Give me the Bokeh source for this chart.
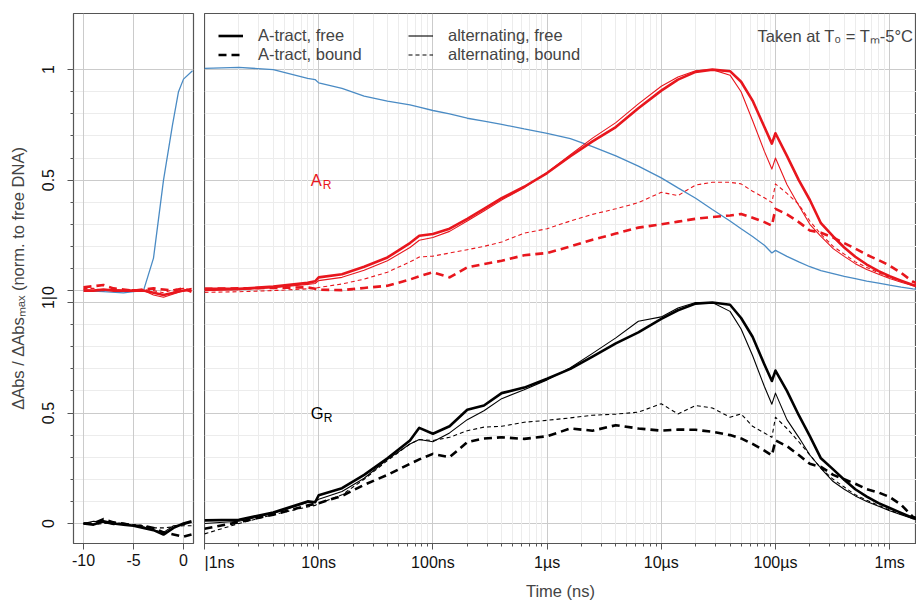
import numpy as np
from bokeh.plotting import figure
from bokeh.models import (FixedTicker, Grid, Legend, LegendItem, Label, Range1d,
                          ColumnDataSource)
from bokeh.layouts import row
from bokeh.embed import file_html
from bokeh.resources import INLINE

# ---------------- data ----------------
# left panel: linear time (ns) before/around the pulse
t_left = [-10, -9, -8, -7, -6, -5, -4, -3, -2, -1, 0, 0.8]
blue_left_t = [-10, -8, -6, -5, -4, -3, -2, -1.1, -0.5, 0, 0.9]
blue_left = [0.0, -0.005, -0.01, -0.005, 0.0, 0.147, 0.5, 0.75, 0.9, 0.957, 0.995]

AR_atract_free_left = [0.0, 0.0, 0.005, 0.0, 0.0, 0.0, 0.0, -0.01, -0.02, -0.01, 0.0, 0.005]
AR_atract_bound_left = [0.015, 0.02, 0.025, 0.01, 0.005, 0.0, 0.005, 0.01, 0.005, 0.0, 0.01, -0.005]
AR_alt_free_left = [0.005, 0.0, 0.0, 0.005, 0.0, 0.0, 0.0, -0.02, -0.03, -0.015, 0.0, 0.01]
AR_alt_bound_left = [0.01, 0.01, 0.0, 0.005, 0.0, 0.005, 0.005, 0.0, -0.01, 0.005, 0.01, 0.0]

GR_atract_free_left = [0.0, -0.005, 0.01, 0.0, -0.005, -0.01, -0.02, -0.03, -0.05, -0.02, 0.0, 0.01]
GR_atract_bound_left = [0.0, 0.0, 0.02, 0.005, 0.0, -0.01, -0.01, -0.02, -0.04, -0.05, -0.06, -0.05]
GR_alt_free_left = [0.0, 0.01, 0.005, -0.005, 0.0, -0.01, -0.015, -0.03, -0.04, -0.01, -0.005, 0.005]
GR_alt_bound_left = [0.0, -0.005, 0.0, 0.005, 0.0, -0.005, -0.01, -0.02, -0.02, -0.015, -0.01, -0.01]

# right panel: log time (ns)
t_right = [1, 2, 4, 8, 9.3, 10, 16, 25, 40, 63, 76, 100, 140, 200, 280, 400, 630,
           1000, 1600, 2500, 4000, 6300, 10000, 14000, 20000, 28000, 40000, 50000,
           63000, 80000, 93000, 100000, 126000, 160000, 200000, 250000, 320000,
           400000, 500000, 630000, 800000, 1000000, 1260000, 1600000, 2000000]

blue_right = [1.006, 1.01, 1.0, 0.96, 0.955, 0.94, 0.915, 0.88, 0.857, 0.84, 0.83, 0.815,
              0.80, 0.78, 0.767, 0.752, 0.732, 0.712, 0.688, 0.652, 0.61, 0.563, 0.51,
              0.465, 0.418, 0.367, 0.315, 0.28, 0.245, 0.205, 0.17, 0.182, 0.155, 0.13,
              0.108, 0.09, 0.077, 0.064, 0.054, 0.043, 0.034, 0.025, 0.016, 0.008, 0.003]

AR_atract_free = [0.008, 0.008, 0.018, 0.035, 0.042, 0.06, 0.074, 0.108, 0.15, 0.215, 0.248,
                  0.256, 0.28, 0.325, 0.37, 0.418, 0.47, 0.532, 0.608, 0.675, 0.74, 0.825,
                  0.905, 0.955, 0.99, 1.0, 0.993, 0.945, 0.86, 0.74, 0.665, 0.712, 0.61, 0.5,
                  0.41, 0.305, 0.245, 0.195, 0.153, 0.118, 0.088, 0.065, 0.045, 0.025, 0.012]
AR_alt_free = [0.0, 0.004, 0.013, 0.028, 0.032, 0.045, 0.06, 0.092, 0.135, 0.195, 0.228,
               0.24, 0.268, 0.315, 0.36, 0.41, 0.465, 0.535, 0.615, 0.69, 0.76, 0.845,
               0.925, 0.967, 0.995, 1.0, 0.975, 0.9, 0.77, 0.63, 0.55, 0.6, 0.48, 0.385,
               0.3, 0.245, 0.19, 0.155, 0.122, 0.096, 0.074, 0.055, 0.038, 0.022, 0.01]
AR_alt_bound = [-0.008, -0.005, 0.0, 0.008, 0.01, 0.014, 0.03, 0.052, 0.083, 0.13, 0.152,
                0.156, 0.17, 0.185, 0.2, 0.22, 0.26, 0.28, 0.315, 0.345, 0.37, 0.398,
                0.445, 0.43, 0.478, 0.49, 0.49, 0.483, 0.45, 0.42, 0.398, 0.483, 0.44, 0.39,
                0.315, 0.255, 0.2, 0.165, 0.13, 0.105, 0.08, 0.06, 0.042, 0.025, 0.012]
AR_atract_bound = [0.008, 0.01, 0.012, 0.015, 0.008, 0.004, 0.002, 0.012, 0.022, 0.05, 0.065,
                   0.083, 0.06, 0.105, 0.12, 0.135, 0.16, 0.17, 0.2, 0.23, 0.258, 0.285,
                   0.3, 0.312, 0.325, 0.333, 0.34, 0.347, 0.33, 0.31, 0.294, 0.37, 0.345, 0.31,
                   0.272, 0.262, 0.24, 0.215, 0.19, 0.162, 0.138, 0.113, 0.08, 0.04, 0.02]

GR_atract_free = [0.014, 0.017, 0.05, 0.1, 0.096, 0.128, 0.16, 0.22, 0.295, 0.376, 0.433,
                  0.406, 0.44, 0.515, 0.534, 0.59, 0.615, 0.655, 0.7, 0.755, 0.815, 0.865,
                  0.926, 0.965, 0.995, 1.0, 0.99, 0.93, 0.845, 0.72, 0.645, 0.692, 0.6, 0.49,
                  0.395, 0.295, 0.245, 0.198, 0.155, 0.122, 0.092, 0.07, 0.048, 0.025, 0.012]
GR_alt_free = [0.0, 0.01, 0.045, 0.095, 0.1, 0.11, 0.145, 0.205, 0.29, 0.36, 0.38,
               0.37, 0.41, 0.47, 0.51, 0.565, 0.605, 0.65, 0.705, 0.77, 0.84, 0.915,
               0.935, 0.975, 1.0, 1.0, 0.96, 0.88, 0.76, 0.62, 0.54, 0.59, 0.47, 0.39,
               0.31, 0.25, 0.19, 0.155, 0.125, 0.1, 0.078, 0.058, 0.04, 0.022, 0.01]
GR_alt_bound = [-0.047, 0.0, 0.04, 0.075, 0.082, 0.09, 0.13, 0.2, 0.285, 0.36, 0.38,
                0.376, 0.39, 0.42, 0.436, 0.44, 0.458, 0.467, 0.478, 0.49, 0.495, 0.504,
                0.542, 0.496, 0.534, 0.523, 0.481, 0.496, 0.44, 0.41, 0.39, 0.481, 0.43, 0.37,
                0.31, 0.25, 0.2, 0.165, 0.13, 0.105, 0.082, 0.06, 0.042, 0.025, 0.012]
GR_atract_bound = [-0.024, 0.006, 0.04, 0.082, 0.089, 0.092, 0.125, 0.175, 0.22, 0.27, 0.29,
                   0.315, 0.3, 0.368, 0.385, 0.39, 0.383, 0.395, 0.43, 0.42, 0.445, 0.43,
                   0.42, 0.425, 0.424, 0.415, 0.4, 0.385, 0.36, 0.33, 0.308, 0.376, 0.35, 0.31,
                   0.27, 0.256, 0.22, 0.2, 0.18, 0.155, 0.14, 0.12, 0.085, 0.03, 0.012]

x_tick_values = [1, 10, 100, 1000, 10000, 100000, 1000000]
x_tick_labels = ["|1ns", "10ns", "100ns", "1\u00b5s", "10\u00b5s", "100\u00b5s", "1ms"]
left_tick_values = [-10, -5, 0]
left_tick_labels = ["-10", "-5", "0"]

# ---------------- style ----------------
FONT = "Liberation Sans"
RED = "#e8161d"
BLUE = "#4a8bc4"
OFF = 1.054            # vertical offset of the A_R panel
YMIN, YMAX = -0.0905, 2.308
XMAX = 10 ** 6.235
THICK, THIN = 2.6, 1.1
DASH_THICK, DASH_THIN = "8 5", "4 3"
GRID_MAJOR, GRID_MINOR = "#cbcbcb", "#ececec"
TXT = "16.5px"

y_major = [0, 0.5, 1, OFF, OFF + 0.5, OFF + 1]
y_labels = {0: "0", 0.5: "0.5", 1: "1|", OFF: "0", OFF + 0.5: "0.5", OFF + 1: "1"}
y_minor = [k / 10 for k in range(1, 10) if k != 5] + [OFF + k / 10 for k in range(1, 10) if k != 5]
yticker = FixedTicker(ticks=y_major, minor_ticks=y_minor)

H = 602
TOP, BOTTOM = 13, 59


def style(p):
    p.outline_line_color = "#555555"
    p.outline_line_width = 1.2
    p.xgrid.visible = False
    p.ygrid.visible = False
    p.add_layout(Grid(dimension=1, ticker=yticker, grid_line_color=GRID_MAJOR,
                      minor_grid_line_color=GRID_MINOR))
    for ax in p.xaxis:
        ax.major_label_text_font = FONT
        ax.major_label_text_font_size = "16px"
        ax.major_label_text_color = "#111111"
        ax.axis_line_color = "#555555"
        ax.major_tick_line_color = "#555555"
        ax.minor_tick_line_color = "#555555"
        ax.major_tick_out = 6
        ax.major_tick_in = 0
        ax.minor_tick_out = 3
        ax.minor_tick_in = 0
        ax.major_label_standoff = 4
        ax.axis_label_text_font = FONT
        ax.axis_label_text_font_size = TXT
        ax.axis_label_text_font_style = "normal"
        ax.axis_label_standoff = 8


# ---------------- left panel ----------------
p1 = figure(width=204, height=H, x_range=Range1d(-11, 1), y_range=Range1d(YMIN, YMAX),
            output_backend="svg", toolbar_location=None,
            min_border_left=73, min_border_right=11, min_border_top=TOP, min_border_bottom=BOTTOM)
style(p1)
p1.add_layout(Grid(dimension=0, ticker=FixedTicker(ticks=left_tick_values),
                   grid_line_color=GRID_MAJOR))
p1.xaxis.ticker = FixedTicker(ticks=left_tick_values)
p1.xaxis.major_label_overrides = dict(zip(left_tick_values, left_tick_labels))

ya = p1.yaxis[0]
ya.ticker = yticker
ya.major_label_overrides = y_labels
ya.major_label_orientation = "parallel"
ya.major_label_text_font = FONT
ya.major_label_text_font_size = "16px"
ya.major_label_text_color = "#111111"
ya.major_label_standoff = 10
ya.axis_line_color = None
ya.major_tick_line_color = "#555555"
ya.minor_tick_line_color = "#555555"
ya.major_tick_out = 6
ya.major_tick_in = 0
ya.minor_tick_out = 3
ya.minor_tick_in = 0
ya.axis_label = "\u0394Abs / \u0394Abs\u2098\u2090\u2093 (norm. to free DNA)"
ya.axis_label_text_font = FONT
ya.axis_label_text_font_size = TXT
ya.axis_label_text_font_style = "normal"
ya.axis_label_standoff = 11

tl = np.array(t_left, dtype=float)
p1.line(blue_left_t, np.array(blue_left) + OFF, color=BLUE, line_width=1.3)
for vals, w, d in [(AR_atract_bound_left, THICK, DASH_THICK), (AR_alt_bound_left, THIN, DASH_THIN),
                   (AR_alt_free_left, THIN, "solid"), (AR_atract_free_left, THICK, "solid")]:
    p1.line(tl, np.array(vals) + OFF, color=RED, line_width=w, line_dash=d, line_join="round")
for vals, w, d in [(GR_atract_bound_left, THICK, DASH_THICK), (GR_alt_bound_left, THIN, DASH_THIN),
                   (GR_alt_free_left, THIN, "solid"), (GR_atract_free_left, THICK, "solid")]:
    p1.line(tl, np.array(vals), color="black", line_width=w, line_dash=d, line_join="round")

# ---------------- right panel ----------------
p2 = figure(width=712, height=H, x_axis_type="log", x_range=Range1d(1, XMAX),
            y_range=Range1d(YMIN, YMAX), y_axis_location=None,
            output_backend="svg", toolbar_location=None,
            min_border_left=0, min_border_right=0, min_border_top=TOP, min_border_bottom=BOTTOM)
style(p2)
x_minor = [m * d for d in x_tick_values for m in range(2, 10)]
xticker = FixedTicker(ticks=x_tick_values, minor_ticks=x_minor)
p2.xaxis.ticker = xticker
p2.xaxis.major_label_overrides = dict(zip(x_tick_values, x_tick_labels))
p2.xaxis.axis_label = "Time (ns)"
p2.add_layout(Grid(dimension=0, ticker=xticker, grid_line_color=GRID_MAJOR,
                   minor_grid_line_color=GRID_MINOR))

tr = np.array(t_right, dtype=float)
p2.line(tr, np.array(blue_right) + OFF, color=BLUE, line_width=1.3)
for vals, w, d in [(AR_atract_bound, THICK, DASH_THICK), (AR_alt_bound, THIN, DASH_THIN),
                   (AR_alt_free, THIN, "solid"), (AR_atract_free, THICK, "solid")]:
    p2.line(tr, np.array(vals) + OFF, color=RED, line_width=w, line_dash=d, line_join="round")
for vals, w, d in [(GR_atract_bound, THICK, DASH_THICK), (GR_alt_bound, THIN, DASH_THIN),
                   (GR_alt_free, THIN, "solid"), (GR_atract_free, THICK, "solid")]:
    p2.line(tr, np.array(vals), color="black", line_width=w, line_dash=d, line_join="round")

# legend (black key lines; renderers hold a single invisible NaN point)
key = ColumnDataSource(dict(x=[np.nan], y=[np.nan]))
k1 = p2.line("x", "y", source=key, color="black", line_width=THICK)
k2 = p2.line("x", "y", source=key, color="black", line_width=THICK, line_dash=DASH_THICK)
k3 = p2.line("x", "y", source=key, color="black", line_width=THIN)
k4 = p2.line("x", "y", source=key, color="black", line_width=THIN, line_dash=DASH_THIN)
frame_h = H - TOP - BOTTOM
for items, xoff in [([("A-tract, free", k1), ("A-tract, bound", k2)], 14),
                    ([("alternating, free", k3), ("alternating, bound", k4)], 204)]:
    leg = Legend(items=[LegendItem(label=l, renderers=[r]) for l, r in items],
                 location=(xoff, frame_h - 13 - 38), padding=0, margin=0, spacing=0,
                 label_height=19, glyph_height=19, glyph_width=25, label_standoff=15,
                 label_text_font=FONT, label_text_font_size=TXT,
                 border_line_color=None, background_fill_alpha=0)
    p2.add_layout(leg)

for txt, col, yy in [("A", RED, OFF + 0.5), ("G", "black", 0.5)]:
    p2.add_layout(Label(x=8.5, y=yy, text=txt, text_color=col, text_font=FONT,
                        text_font_size=TXT, text_baseline="middle"))
    p2.add_layout(Label(x=8.5, y=yy, x_offset=12 if txt == "A" else 13, y_offset=-5, text="R",
                        text_color=col, text_font=FONT, text_font_size="12px",
                        text_baseline="middle"))

p2.add_layout(Label(x=XMAX, y=YMAX, x_offset=-3, y_offset=-22,
                    text="Taken at T\u2080 = T\u2098-5\u00b0C", text_font=FONT,
                    text_font_size=TXT, text_align="right", text_baseline="middle"))

layout = row(p1, p2)
open("out.html", "w").write(file_html(layout, INLINE))
